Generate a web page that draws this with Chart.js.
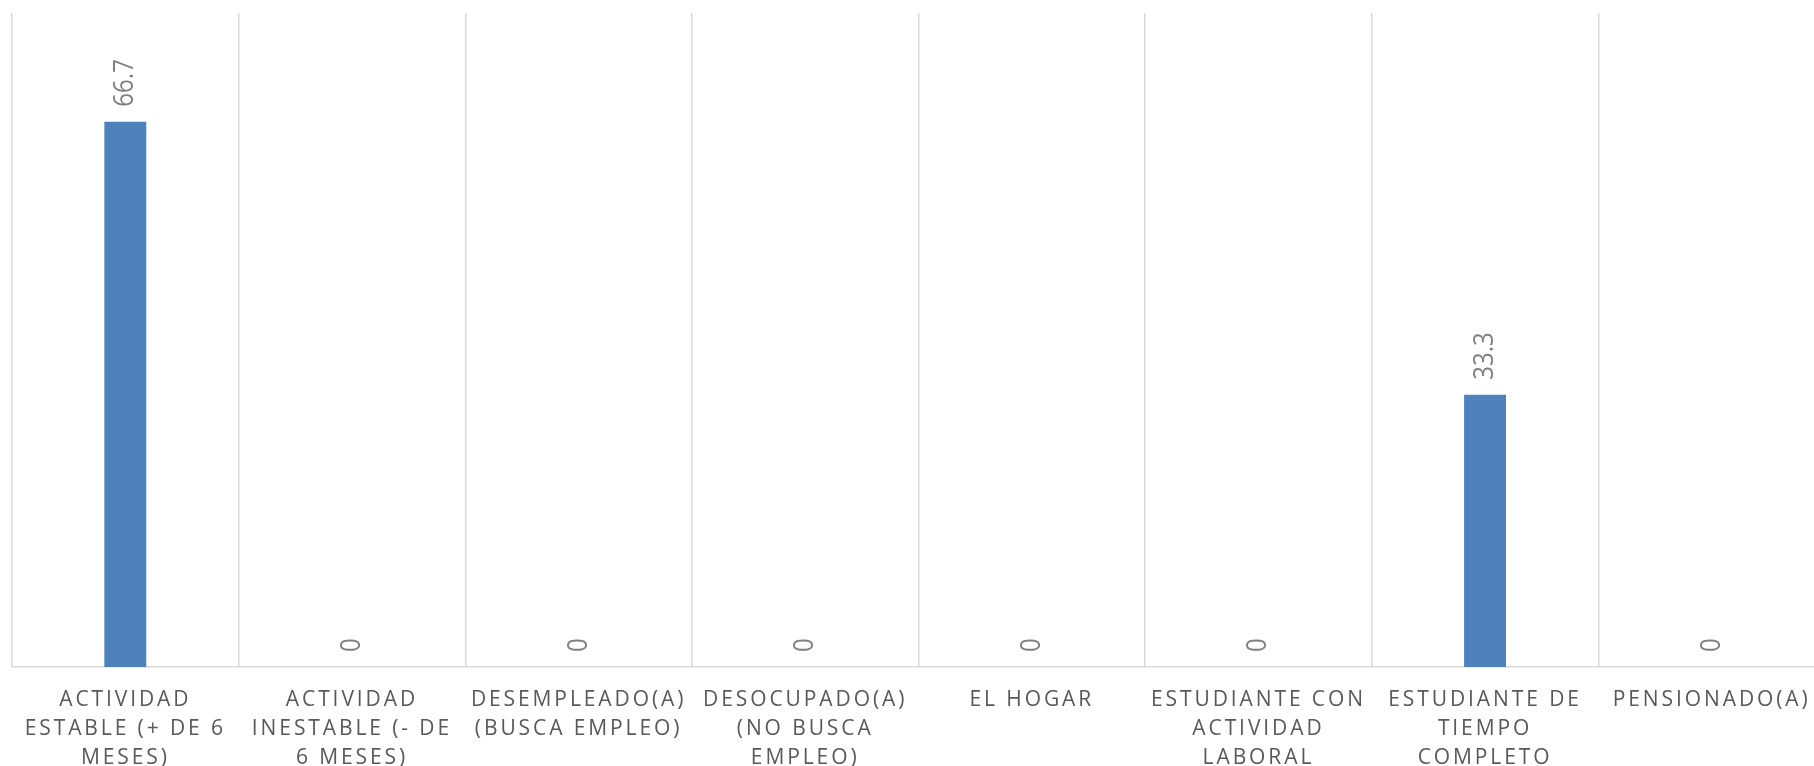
<!DOCTYPE html>
<html>
<head>
<meta charset="utf-8">
<script src="https://cdn.jsdelivr.net/npm/chart.js@4/dist/chart.umd.min.js"></script>
<style>
  html, body { margin: 0; padding: 0; background: #fff; overflow: hidden; }
  #wrap { position: relative; width: 1840px; height: 792px; }
</style>
</head>
<body>
<div id="wrap"><canvas id="chart"></canvas></div>
<script>
// categories (wrapped the way the original shows them)
const categories = [
    ['ACTIVIDAD', 'ESTABLE (+ DE 6', 'MESES)'],
    ['ACTIVIDAD', 'INESTABLE (- DE', '6 MESES)'],
    ['DESEMPLEADO(A)', '(BUSCA EMPLEO)'],
    ['DESOCUPADO(A)', '(NO BUSCA', 'EMPLEO)'],
    ['EL HOGAR'],
    ['ESTUDIANTE CON', 'ACTIVIDAD', 'LABORAL'],
    ['ESTUDIANTE DE', 'TIEMPO', 'COMPLETO'],
    ['PENSIONADO(A)']
];
const values = [66.7, 0, 0, 0, 0, 0, 33.3, 0];

const yMin = 0;
const yMax = 80;

// letter-spaced axis labels, plain rotated data labels
const spacingPlugin = {
    id: 'spacing',
    beforeDraw(chart) {
        chart.ctx.letterSpacing = '2.9px';
    },
    afterDatasetsDraw(chart) {
        const ctx = chart.ctx;
        ctx.letterSpacing = '0px';
        const meta = chart.getDatasetMeta(0);
        ctx.save();
        ctx.font = '28px "Open Sans", sans-serif';
        ctx.fillStyle = '#808080';
        ctx.textAlign = 'left';
        ctx.textBaseline = 'middle';
        meta.data.forEach((bar, i) => {
            ctx.save();
            ctx.translate(bar.x, bar.y - 15);
            ctx.rotate(-Math.PI / 2);
            ctx.scale(0.86, 1);
            ctx.fillText(String(values[i]), 0, 0);
            ctx.restore();
        });
        ctx.restore();
    }
};

new Chart(document.getElementById('chart'), {
    type: 'bar',
    data: {
        labels: categories,
        datasets: [{
            data: values,
            backgroundColor: '#4f81bd',
            categoryPercentage: 1,
            barPercentage: 0.185
        }]
    },
    options: {
        responsive: true,
        maintainAspectRatio: false,
        animation: false,
        layout: { padding: { left: 12, right: 15, top: 13, bottom: 0 } },
        plugins: {
            legend: { display: false },
            tooltip: { enabled: false }
        },
        scales: {
            y: {
                display: false,
                min: yMin,
                max: yMax
            },
            x: {
                grid: {
                    color: '#d9d9d9',
                    lineWidth: 1.5,
                    drawTicks: false
                },
                border: { color: '#d9d9d9', width: 1.5 },
                ticks: {
                    color: '#595959',
                    font: { family: '"Open Sans", sans-serif', size: 21, lineHeight: 29 / 21 },
                    padding: 19,
                    maxRotation: 0,
                    autoSkip: false
                }
            }
        }
    },
    plugins: [spacingPlugin]
});
</script>
</body>
</html>
